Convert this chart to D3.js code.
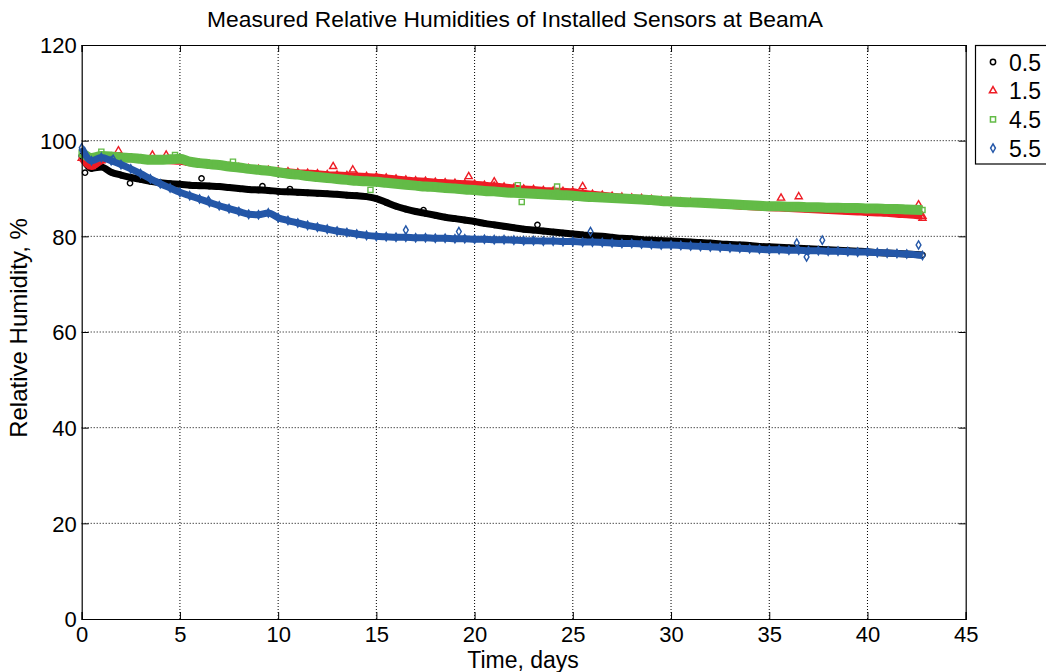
<!DOCTYPE html>
<html><head><meta charset="utf-8">
<script src="https://cdn.jsdelivr.net/npm/d3@7"></script>
<style>
html,body{margin:0;padding:0;background:#fff;}
svg{display:block;font-family:"Liberation Sans",Arial,Helvetica,sans-serif;}
</style></head>
<body><svg id="chart" width="1046" height="672"></svg>
<script>
// ---------------- data ----------------
const chartTitle = "Measured Relative Humidities of Installed Sensors at BeamA";
const xLabel = "Time, days";
const yLabel = "Relative Humidity, %";
const xTicks = [0,5,10,15,20,25,30,35,40,45];
const yTicks = [0,20,40,60,80,100,120];
const seriesNames = ["0.5","1.5","4.5","5.5"];

const days = [0,0.5,1,1.5,2,2.5,3,3.5,4,4.5,5,5.5,6,6.5,7,7.5,8,8.5,9,9.5,10,10.5,11,11.5,12,12.5,13,13.5,14,14.5,
  15,15.5,16,16.5,17,17.5,18,18.5,19,19.5,20,20.5,21,21.5,22,22.5,23,23.5,24,24.5,25,25.5,26,26.5,27,27.5,28,28.5,29,29.5,
  30,30.5,31,31.5,32,32.5,33,33.5,34,34.5,35,35.5,36,36.5,37,37.5,38,38.5,39,39.5,40,40.5,41,41.5,42,42.8];

const rh05 = [96.8,94.2,94.5,93.4,92.8,92.3,91.9,91.5,91.2,91.0,90.9,90.7,90.6,90.5,90.4,90.2,90.0,89.8,89.7,89.6,
  89.4,89.3,89.2,89.1,89.0,88.9,88.8,88.6,88.5,88.3,87.9,87.1,86.3,85.7,85.2,84.8,84.4,84.0,83.7,83.4,
  83.1,82.7,82.4,82.1,81.8,81.5,81.3,81.1,80.9,80.7,80.5,80.3,80.1,80.0,79.8,79.6,79.5,79.3,79.2,79.1,
  79.0,78.9,78.8,78.7,78.6,78.4,78.3,78.2,78.1,77.9,77.8,77.7,77.6,77.5,77.4,77.3,77.2,77.1,77.0,76.9,
  76.8,76.6,76.5,76.4,76.3,76.1];
const rh15 = [96.3,94.6,95.8,96.6,96.4,96.2,96.1,95.9,95.9,95.8,95.7,95.4,95.2,95.0,94.8,94.6,94.4,94.2,94.0,93.8,
  93.6,93.5,93.3,93.2,93.1,92.9,92.8,92.7,92.6,92.5,92.4,92.2,92.0,91.8,91.6,91.5,91.3,91.2,91.1,91.0,
  90.9,90.7,90.5,90.3,90.1,89.9,89.8,89.6,89.5,89.4,89.3,89.0,88.8,88.6,88.4,88.2,88.0,87.9,87.7,87.5,
  87.4,87.2,87.1,86.9,86.8,86.6,86.5,86.3,86.2,86.1,86.0,85.9,85.8,85.7,85.6,85.5,85.4,85.3,85.2,85.1,
  85.0,84.9,84.8,84.6,84.5,84.2];
const rh45 = [97.5,96.4,96.8,96.7,96.5,96.4,96.2,96.0,96.0,96.1,96.2,95.6,95.3,95.1,94.9,94.6,94.4,94.1,93.9,93.7,
  93.4,93.1,92.9,92.6,92.4,92.2,92.0,91.8,91.6,91.5,91.4,91.2,91.0,90.8,90.6,90.4,90.3,90.1,90.0,89.8,
  89.7,89.5,89.4,89.2,89.1,89.0,88.9,88.8,88.7,88.6,88.5,88.3,88.2,88.1,88.0,87.9,87.8,87.7,87.6,87.4,
  87.3,87.2,87.1,87.0,86.9,86.8,86.7,86.6,86.5,86.4,86.3,86.3,86.2,86.2,86.1,86.1,86.0,86.0,85.9,85.9,
  85.8,85.8,85.7,85.7,85.6,85.5];
const rh55 = [98.5,95.8,96.5,95.8,95.0,94.1,93.1,92.0,91.0,90.1,89.2,88.5,87.8,87.1,86.4,85.8,85.2,84.6,84.5,84.9,
  83.9,83.3,82.8,82.3,81.9,81.5,81.1,80.8,80.5,80.2,80.0,79.9,79.8,79.8,79.7,79.7,79.6,79.6,79.5,79.5,
  79.4,79.4,79.3,79.3,79.2,79.1,79.1,79.0,79.0,78.9,78.9,78.8,78.8,78.7,78.6,78.5,78.5,78.4,78.3,78.2,
  78.2,78.1,78.0,77.9,77.8,77.7,77.6,77.5,77.4,77.3,77.2,77.2,77.1,77.1,77.0,77.0,76.9,76.9,76.8,76.7,
  76.7,76.6,76.5,76.4,76.3,76.0];

// scattered readings off the main band: [day, RH]
const out05 = [[0.17,93.3],[2.46,91.1],[6.1,92.1],[9.2,90.5],[10.6,89.9],[17.4,85.5],[23.2,82.4]];
const out15 = [[1.87,97.9],[3.6,97.0],[4.3,97.0],[12.8,94.6],[13.8,93.9],[19.7,92.5],[21.0,91.4],[25.5,90.4],
  [35.6,88.0],[36.5,88.3],[42.6,86.6],[42.8,83.8]];
const out45 = [[1.0,97.7],[4.75,97.0],[7.7,95.6],[14.7,89.7],[22.2,90.7],[24.2,90.4],[22.4,87.2]];
const out55 = [[1.6,96.1],[6.45,87.5],[16.5,81.3],[19.2,81.0],[25.9,81.0],[36.4,78.6],[37.7,79.2],[36.9,75.7],[42.6,78.2]];

// ---------------- chart ----------------
const svg = d3.select("#chart");
const L = 81.7, R = 965.7, T = 45, B = 619;
const x = d3.scaleLinear().domain([0,45]).range([L,R]);
const y = d3.scaleLinear().domain([0,120]).range([B,T]);

const colors = ["#000000","#ee1c25","#63bb47","#2457a8"];
const bandW = [7,7,10,7];
const seriesVals = [rh05, rh15, rh45, rh55];
const outliers = [out05, out15, out45, out55];
const symbols = [d3.symbolCircle, d3.symbolTriangle, d3.symbolSquare, d3.symbolDiamond];
const symSize = [22, 22, 26, 20];

// grid
const grid = svg.append("g");
grid.selectAll("line.gx").data(xTicks.filter(t => t>0 && t<45)).enter().append("line")
  .attr("x1", d=>x(d)).attr("x2", d=>x(d)).attr("y1", T).attr("y2", B)
  .attr("stroke","#000").attr("stroke-width",1).attr("stroke-dasharray","1,2");
grid.selectAll("line.gy").data(yTicks.filter(t => t>0 && t<120)).enter().append("line")
  .attr("x1", L).attr("x2", R).attr("y1", d=>y(d)).attr("y2", d=>y(d))
  .attr("stroke","#000").attr("stroke-width",1).attr("stroke-dasharray","1,2");

// data
const plot = svg.append("g");
seriesVals.forEach((vals, i) => {
  const pts = days.map((d, k) => [d, vals[k]]);
  const line = d3.line().x(p => x(p[0])).y(p => y(p[1])).curve(d3.curveMonotoneX);
  plot.append("path").attr("d", line(pts)).attr("fill","none")
    .attr("stroke", colors[i]).attr("stroke-width", bandW[i]).attr("stroke-linejoin","round");
  const sym = d3.symbol().type(symbols[i]).size(symSize[i]);
  plot.append("g").selectAll("path").data(pts.concat(outliers[i])).enter().append("path")
    .attr("transform", p => `translate(${x(p[0])},${y(p[1])})`)
    .attr("d", sym()).attr("fill","none").attr("stroke", colors[i]).attr("stroke-width",1.4);
});

// axes (MATLAB-style box, inward ticks)
const xAxis = d3.axisBottom(x).tickValues(xTicks).tickSize(-7).tickPadding(7).tickFormat(d3.format("d"));
const yAxis = d3.axisLeft(y).tickValues(yTicks).tickSize(-7).tickPadding(5).tickFormat(d3.format("d"));
const gx = svg.append("g").attr("transform",`translate(0,${B})`).call(xAxis);
const gy = svg.append("g").attr("transform",`translate(${L},0)`).call(yAxis);
const gxt = svg.append("g").attr("transform",`translate(0,${T})`).call(d3.axisTop(x).tickValues(xTicks).tickSize(-7).tickFormat(""));
const gyr = svg.append("g").attr("transform",`translate(${R},0)`).call(d3.axisRight(y).tickValues(yTicks).tickSize(-7).tickFormat(""));
[gx,gy,gxt,gyr].forEach(g => {
  g.select(".domain").attr("stroke","#000").attr("stroke-width",1.2);
  g.selectAll(".tick line").attr("stroke","#000").attr("stroke-width",1);
  g.selectAll(".tick text").attr("fill","#000").style("font-size","22px")
    .style("font-family",'"Liberation Sans",Arial,sans-serif');
});
gx.selectAll(".tick text").attr("dy","0.72em");
gy.selectAll(".tick text").attr("dy","0.36em");

// titles
svg.append("text").attr("x", 515).attr("y", 27).attr("text-anchor","middle")
  .style("font-size","22.8px").text(chartTitle);
svg.append("text").attr("x", 523).attr("y", 668).attr("text-anchor","middle")
  .style("font-size","23px").text(xLabel);
svg.append("text").attr("transform","translate(27,328) rotate(-90)").attr("text-anchor","middle")
  .style("font-size","24px").text(yLabel);

// legend
const lg = svg.append("g");
lg.append("rect").attr("x",975.5).attr("y",45.5).attr("width",90).attr("height",118.5)
  .attr("fill","#fff").attr("stroke","#000").attr("stroke-width",1.2);
seriesNames.forEach((n, i) => {
  const cy = 62 + i*28.7;
  lg.append("path").attr("transform",`translate(993,${cy})`)
    .attr("d", d3.symbol().type(symbols[i]).size(symSize[i])()).attr("fill","none")
    .attr("stroke", colors[i]).attr("stroke-width",1.5);
  lg.append("text").attr("x",1009).attr("y",cy+8.5).style("font-size","23px").text(n);
});
</script></body></html>
